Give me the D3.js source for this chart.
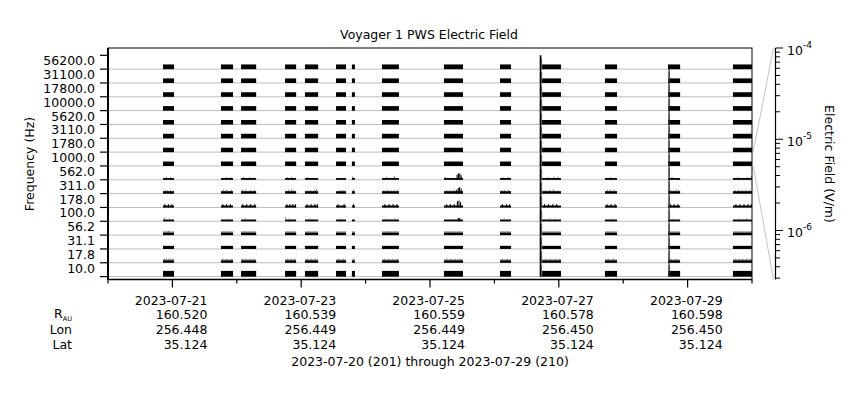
<!DOCTYPE html>
<html><head><meta charset="utf-8">
<script src="https://cdn.jsdelivr.net/npm/d3@7"></script>
<style>body{margin:0;background:#fff} text{font-family:"DejaVu Sans",sans-serif;font-size:12.5px;fill:#000}</style>
</head><body><svg id="c" width="860" height="400"></svg>
<script>
// ---------- data ----------
const freqLabels = ["56200.0","31100.0","17800.0","10000.0","5620.0","3110.0","1780.0","1000.0","562.0","311.0","178.0","100.0","56.2","31.1","17.8","10.0"];
// typical average (black) and peak (gray) electric field per channel, V/m
const bandAvg  = [2.0e-6,1.9e-6,1.9e-6,1.9e-6,1.9e-6,1.9e-6,1.8e-6,1.8e-6,6.0e-7,7.7e-7,6.0e-7,5.1e-7,7.7e-7,1.05e-6,7.7e-7,3.2e-6];
const bandPeak = [2.0e-6,1.9e-6,1.9e-6,1.9e-6,1.9e-6,1.9e-6,1.8e-6,1.8e-6,6.0e-7,9.0e-7,7.0e-7,7.7e-7,1.4e-6,1.05e-6,1.2e-6,3.2e-6];
// data coverage, hours since 2023-07-20 00:00 UT
const segStartH = [20.5,42.1,49.6,66.0,73.4,85.0,90.9,102.1,125.2,146.1,161.0,185.2,208.7,232.9];
const segEndH   = [24.6,46.6,55.2,70.1,78.3,88.7,92.0,108.4,132.3,150.2,168.8,189.7,213.2,240.0];
const spikeDurH = 0.4;
// [hour, channel index, V/m] peak samples (gray)
const graySpikes = [
 [21.6,8,9e-7],[23.1,8,9e-7],[44.0,8,9e-7],[45.6,8,9e-7],[50.3,8,1.0e-6],[52.5,8,9e-7],[66.7,8,9e-7],[68.2,8,9e-7],[74.2,8,9e-7],[91.0,8,1.2e-6],[103.6,8,1.0e-6],[106.6,8,1.5e-6],[125.6,8,1.0e-6],[147.0,8,9e-7],[148.9,8,1.0e-6],[163.8,8,9e-7],[166.0,8,1.0e-6],[167.5,8,1.2e-6],[187.0,8,9e-7],[210.0,8,1.0e-6],[234.5,8,9e-7],[238.0,8,9e-7],[239.5,8,1.6e-6],
 [21.2,9,1.5e-6],[22.0,9,1.2e-6],[23.1,9,1.3e-6],[42.9,9,1.6e-6],[44.0,9,1.6e-6],[45.8,9,1.5e-6],[49.9,9,1.6e-6],[51.1,9,1.6e-6],[52.9,9,1.3e-6],[54.4,9,1.5e-6],[67.1,9,1.5e-6],[68.2,9,1.6e-6],[68.9,9,1.5e-6],[74.2,9,1.2e-6],[75.3,9,1.3e-6],[76.8,9,1.5e-6],[77.5,9,2.2e-6],[86.2,9,1.3e-6],[87.3,9,1.5e-6],[91.2,9,1.8e-6],[102.6,9,1.2e-6],[104.0,9,1.5e-6],[105.2,9,1.3e-6],[106.4,9,1.5e-6],[107.6,9,1.6e-6],[126.1,9,1.3e-6],[127.3,9,1.2e-6],[128.5,9,1.5e-6],[146.6,9,1.3e-6],[147.7,9,1.5e-6],[149.1,9,1.6e-6],[162.8,9,1.3e-6],[164.3,9,1.5e-6],[165.8,9,1.6e-6],[167.5,9,1.3e-6],[186.0,9,1.5e-6],[187.1,9,1.6e-6],[188.4,9,1.7e-6],[209.5,9,1.6e-6],[210.6,9,1.4e-6],[211.7,9,1.6e-6],[212.5,9,1.3e-6],[233.6,9,1.3e-6],[234.9,9,1.5e-6],[236.2,9,1.4e-6],[237.5,9,1.5e-6],[238.8,9,1.4e-6],
 [20.9,11,1.4e-6],[22.8,11,1.0e-6],[44.5,11,1.0e-6],[51.0,11,1.0e-6],[66.0,11,1.6e-6],[67.3,11,1.0e-6],[75.0,11,1.0e-6],[86.5,11,1.0e-6],[103.3,11,1.0e-6],[106.8,11,1.0e-6],[147.5,11,1.0e-6],[164.5,11,1.0e-6],[166.3,11,1.0e-6],[187.5,11,1.0e-6],[210.5,11,1.0e-6],[235.0,11,1.0e-6],[237.7,11,1.0e-6],
 [22.4,12,1.8e-6],[104.0,12,1.6e-6],
 [20.8,14,1.7e-6],[21.6,14,1.7e-6],[22.4,14,1.7e-6],[23.2,14,1.7e-6],[24.0,14,1.7e-6],[42.5,14,1.7e-6],[44.2,14,1.7e-6],[46.0,14,1.7e-6],[50.0,14,1.7e-6],[51.3,14,1.7e-6],[52.6,14,1.7e-6],[54.0,14,1.7e-6],[66.6,14,1.7e-6],[68.0,14,1.7e-6],[69.4,14,1.7e-6],[74.0,14,1.7e-6],[75.6,14,1.7e-6],[77.2,14,1.7e-6],[85.6,14,1.7e-6],[87.5,14,1.7e-6],[91.4,14,1.7e-6],[102.8,14,1.7e-6],[104.4,14,1.7e-6],[106.0,14,1.7e-6],[107.6,14,1.7e-6],[126.0,14,1.7e-6],[127.6,14,1.7e-6],[129.2,14,1.7e-6],[131.0,14,1.7e-6],[146.8,14,1.7e-6],[148.6,14,1.7e-6],[163.0,14,1.7e-6],[164.8,14,1.7e-6],[166.6,14,1.7e-6],[168.2,14,1.7e-6],[186.2,14,1.7e-6],[188.2,14,1.7e-6],[209.6,14,1.7e-6],[211.6,14,1.7e-6],[233.6,14,1.7e-6],[235.0,14,1.7e-6],[236.4,14,1.7e-6],[237.8,14,1.7e-6],[239.2,14,1.7e-6]
];
// [hour, channel index, V/m] average samples (black)
const blackSpikes = [
 [21.0,10,1.15e-6],[22.3,10,1.15e-6],[23.6,10,1.15e-6],[42.6,10,1.15e-6],[44.0,10,1.15e-6],[45.4,10,1.15e-6],[50.0,10,1.15e-6],[51.5,10,1.15e-6],[53.0,10,1.15e-6],[54.5,10,1.15e-6],[66.5,10,1.15e-6],[67.6,10,1.15e-6],[68.7,10,1.15e-6],[69.6,10,1.15e-6],[74.0,10,1.15e-6],[75.5,10,1.15e-6],[76.9,10,1.15e-6],[77.8,10,1.15e-6],[85.5,10,1.15e-6],[87.8,10,1.15e-6],[91.3,10,1.15e-6],[103.0,10,1.15e-6],[104.6,10,1.15e-6],[106.0,10,1.15e-6],[107.5,10,1.15e-6],[126.0,10,1.15e-6],[127.4,10,1.15e-6],[128.8,10,1.15e-6],[146.8,10,1.15e-6],[148.3,10,1.15e-6],[149.5,10,1.15e-6],[162.5,10,1.15e-6],[164.0,10,1.15e-6],[165.6,10,1.15e-6],[167.0,10,1.15e-6],[185.8,10,1.15e-6],[187.3,10,1.15e-6],[188.8,10,1.15e-6],[209.4,10,1.15e-6],[210.8,10,1.15e-6],[212.2,10,1.15e-6],[233.8,10,1.15e-6],[235.3,10,1.15e-6],[236.8,10,1.15e-6],[238.3,10,1.15e-6],[239.5,10,1.15e-6],
 [129.9,8,2.5e-6],[130.4,8,4.2e-6],[130.9,8,4.2e-6],[131.4,8,2.0e-6],
 [129.6,9,1.5e-6],[130.3,9,3.0e-6],[130.8,9,4.2e-6],[131.4,9,2.5e-6],
 [130.0,10,4.0e-6],[130.6,10,5.2e-6],[131.2,10,3.0e-6],
 [130.3,11,1.2e-6],[130.9,11,1.2e-6]
];
// short broadband bursts
const burstStartH = [160.9, 208.9];
const burstEndH   = [161.5, 209.25];
const burstGrayEndH = [161.8, 209.3];
const burstFirstBand = [0, 1];
const burstValue = [1e-4, 1e-4];
const highlightBand = "1000.0";
// bottom annotation
const tickDates = ["2023-07-21","2023-07-23","2023-07-25","2023-07-27","2023-07-29"];
const rAU  = ["160.520","160.539","160.559","160.578","160.598"];
const lonV = ["256.448","256.449","256.449","256.450","256.450"];
const latV = ["35.124","35.124","35.124","35.124","35.124"];
const decadeExps = [-4,-5,-6];

// ---------- drawing ----------
const svg = d3.select("#c");
const L=108, R=752, T=48, B=279.5;
const t0 = new Date(Date.UTC(2023,6,20)), t1 = new Date(Date.UTC(2023,6,30));
const hD = h => new Date(t0.getTime()+h*3600e3);
const x = d3.scaleUtc().domain([t0,t1]).range([L,R]);
const y = d3.scaleBand().domain(freqLabels).range([55.3,276.6]);
const bw = y.bandwidth();
const eMin = 2.9e-7, eMax = 1e-4;
const hS = d3.scaleLog().domain([eMin,eMax]).range([0,bw]).clamp(true);
const eS = d3.scaleLog().domain([eMin,eMax]).range([B,T]);
const base = f => y(f)+bw;

// band baselines
svg.append("g").selectAll("line").data(freqLabels).join("line")
  .attr("x1",L).attr("x2",R).attr("y1",d=>base(d)).attr("y2",d=>base(d))
  .attr("stroke","#bdbdbd").attr("stroke-width",1);

const segs = segStartH.map((s,i)=>({s, e:segEndH[i]}));
const cells = [];
segs.forEach(sg=>freqLabels.forEach((f,i)=>cells.push({sg,f,i})));

function bar(g, data, getS, getE, getF, getV, color){
  g.selectAll("rect").data(data).join("rect")
   .attr("x",d=>x(hD(getS(d))))
   .attr("width",d=>Math.max(1,x(hD(getE(d)))-x(hD(getS(d)))))
   .attr("y",d=>base(getF(d))-hS(getV(d)))
   .attr("height",d=>hS(getV(d)))
   .attr("fill",color);
}
bar(svg.append("g"), cells, d=>d.sg.s, d=>d.sg.e, d=>d.f, d=>bandPeak[d.i], "#8a8a8a");
bar(svg.append("g"), graySpikes, d=>d[0], d=>d[0]+spikeDurH, d=>freqLabels[d[1]], d=>d[2], "#8a8a8a");
bar(svg.append("g"), cells, d=>d.sg.s, d=>d.sg.e, d=>d.f, d=>bandAvg[d.i], "#000");
bar(svg.append("g"), blackSpikes, d=>d[0], d=>d[0]+spikeDurH, d=>freqLabels[d[1]], d=>d[2], "#000");

const bursts = [];
burstStartH.forEach((s,k)=>freqLabels.forEach((f,i)=>{ if(i>=burstFirstBand[k]) bursts.push({s,e:burstEndH[k],ge:burstGrayEndH[k],f,v:burstValue[k]}); }));
bar(svg.append("g"), bursts, d=>d.s, d=>d.ge, d=>d.f, d=>d.v*0.3, "#8a8a8a");
bar(svg.append("g"), bursts, d=>d.s, d=>d.e, d=>d.f, d=>d.v, "#000");

// frame
svg.append("rect").attr("x",L).attr("y",T).attr("width",R-L).attr("height",B-T)
  .attr("fill","none").attr("stroke","#000").attr("stroke-width",1);
svg.append("line").attr("x1",L).attr("x2",L).attr("y1",T).attr("y2",B+0.5).attr("stroke","#000").attr("stroke-width",2);
svg.append("line").attr("x1",L).attr("x2",R).attr("y1",B).attr("y2",B).attr("stroke","#000").attr("stroke-width",1.5);

// left ticks at channel boundaries + labels
const bounds = freqLabels.map(f=>y(f)).concat([y(freqLabels[freqLabels.length-1])+bw]);
svg.append("g").selectAll("line").data(bounds).join("line")
  .attr("x1",L-8).attr("x2",L).attr("y1",d=>d).attr("y2",d=>d).attr("stroke","#000").attr("stroke-width",1.2);
svg.append("g").selectAll("text").data(freqLabels).join("text")
  .attr("x",95).attr("y",d=>y(d)+bw/2-1.5).attr("dy","0.36em").attr("text-anchor","end").text(d=>d);
svg.append("text").attr("transform","translate(30,164) rotate(-90)").attr("dy","0.35em")
  .attr("text-anchor","middle").text("Frequency (Hz)");

// bottom axis ticks
const days = d3.utcDay.range(t0, d3.utcDay.offset(t1,1));
const fmt = d3.utcFormat("%Y-%m-%d");
svg.append("g").selectAll("line").data(days).join("line")
  .attr("x1",d=>x(d)).attr("x2",d=>x(d)).attr("y1",B)
  .attr("y2",d=>B+(tickDates.includes(fmt(d))?8:4)).attr("stroke","#000").attr("stroke-width",1.2);

const rows = [tickDates, rAU, lonV, latV];
const rowY = [304.5, 319, 334, 348.5];
rows.forEach((arr,r)=>{
  svg.append("g").selectAll("text").data(arr).join("text")
    .attr("x",(d,i)=>x(new Date(tickDates[i]+"T00:00:00Z"))+35).attr("y",rowY[r])
    .attr("text-anchor","end").text(d=>d);
});
const rl = svg.append("text").attr("x",72).attr("y",rowY[1]-1).attr("text-anchor","end");
rl.append("tspan").text("R");
rl.append("tspan").attr("dy",2.5).style("font-size","6.5px").text("AU");
svg.append("text").attr("x",72).attr("y",rowY[2]).attr("text-anchor","end").text("Lon");
svg.append("text").attr("x",72).attr("y",rowY[3]).attr("text-anchor","end").text("Lat");
svg.append("text").attr("x",430).attr("y",366).attr("text-anchor","middle")
  .text("2023-07-20 (201) through 2023-07-29 (210)");

// title
svg.append("text").attr("x",429).attr("y",38.5).attr("text-anchor","middle").text("Voyager 1 PWS Electric Field");

// right axis
const AX = 775.5;
svg.append("line").attr("x1",AX).attr("x2",AX).attr("y1",T).attr("y2",B).attr("stroke","#000").attr("stroke-width",1.2);
const eTicks = [];
for(let ex=-7; ex<=-4; ex++) for(let m=1;m<=9;m++){ const v=m*Math.pow(10,ex); if(v>=eMin*0.999 && v<=eMax*1.001) eTicks.push({v,major:m===1}); }
svg.append("g").selectAll("line").data(eTicks).join("line")
  .attr("x1",AX).attr("x2",d=>AX+(d.major?7.5:4.5)).attr("y1",d=>eS(d.v)).attr("y2",d=>eS(d.v))
  .attr("stroke","#000").attr("stroke-width",1);
decadeExps.forEach(ex=>{
  const t = svg.append("text").attr("x",787).attr("y",eS(Math.pow(10,ex))+6.5);
  t.append("tspan").text("10");
  t.append("tspan").attr("dy",-7).style("font-size","9px").text(String(ex));
});
svg.append("text").attr("transform","translate(829,164) rotate(90)").attr("dy","0.35em")
  .attr("text-anchor","middle").text("Electric Field (V/m)");

// zoom lines from highlighted channel to the E-field axis
svg.append("line").attr("x1",R+1).attr("y1",y(highlightBand)+0.7).attr("x2",AX-2).attr("y2",T)
  .attr("stroke","#c4c4c4").attr("stroke-width",1);
svg.append("line").attr("x1",R+1).attr("y1",y(highlightBand)+bw-1).attr("x2",AX-2).attr("y2",B)
  .attr("stroke","#c4c4c4").attr("stroke-width",1);
</script></body></html>
